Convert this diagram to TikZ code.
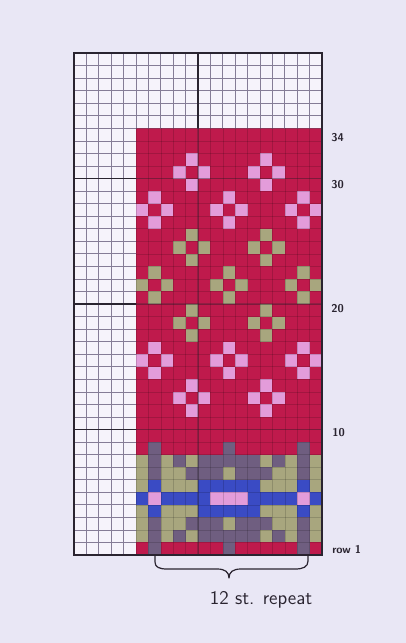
\documentclass[tikz,border=0pt]{standalone}
\usepackage{fontspec}
\definecolor{paper}{HTML}{E9E7F5}
\definecolor{cellw}{HTML}{F6F3FB}
\definecolor{gridc}{HTML}{857C96}
\definecolor{colR}{HTML}{BF1A4C}
\definecolor{colP}{HTML}{E39CDA}
\definecolor{colO}{HTML}{A8A67E}
\definecolor{colG}{HTML}{6F5E80}
\definecolor{colB}{HTML}{3A4BC4}
\definecolor{ink}{HTML}{2A2430}
\newcommand\knitcell[3]{\fill[#3] ({136+(#1-1)*12.4},{555-(#2)*12.55}) rectangle ++(12.4,12.55);}
\newcommand\flower[3]{\knitcell{#1}{#2+1}{#3}\knitcell{#1-1}{#2}{#3}\knitcell{#1+1}{#2}{#3}\knitcell{#1}{#2-1}{#3}}
\newcommand\knitrow[2]{\foreach \c [count=\p] in {#2} {\knitcell{\p}{#1}{col\c}}}
\tikzset{
  lbl/.style={font=\sffamily\bfseries\fontsize{8.5}{10}\selectfont, text=ink, inner sep=0pt, anchor=west},
  replbl/.style={font=\sffamily\fontsize{14.5}{17}\selectfont\addfontfeature{LetterSpace=14}, text=ink, inner sep=0pt},
  thin grid/.style={gridc, line width=0.5pt},
  faint grid/.style={black, opacity=0.15, line width=0.4pt},
  heavy/.style={ink, line width=0.9pt},
}
\begin{document}
\begin{tikzpicture}[x=0.75pt,y=-0.75pt]
\useasboundingbox (0,0) rectangle (406,643);
\fill[paper] (0,0) rectangle (406,643);
% white chart paper
\fill[cellw] (74,53) rectangle (322,555);
% coloured area
\fill[colR] (136,128.3) rectangle (322,555);
% flowers
\flower{5}{31}{colP}\flower{11}{31}{colP}
\flower{2}{28}{colP}\flower{8}{28}{colP}\flower{14}{28}{colP}
\flower{5}{25}{colO}\flower{11}{25}{colO}
\flower{2}{22}{colO}\flower{8}{22}{colO}\flower{14}{22}{colO}
\flower{5}{19}{colO}\flower{11}{19}{colO}
\flower{2}{16}{colP}\flower{8}{16}{colP}\flower{14}{16}{colP}
\flower{5}{13}{colP}\flower{11}{13}{colP}
% border
\knitrow{9}{R,G,R,R,R,R,R,G,R,R,R,R,R,G,R}
\knitrow{8}{O,G,O,G,O,G,G,G,G,G,O,G,O,G,O}
\knitrow{7}{O,G,O,O,G,G,G,O,G,G,G,O,O,G,O}
\knitrow{6}{O,B,O,O,O,B,B,B,B,B,O,O,O,B,O}
\knitrow{5}{B,P,B,B,B,B,P,P,P,B,B,B,B,P,B}
\knitrow{4}{O,B,O,O,O,B,B,B,B,B,O,O,O,B,O}
\knitrow{3}{O,G,O,O,G,G,G,O,G,G,G,O,O,G,O}
\knitrow{2}{O,G,O,G,O,G,G,G,G,G,O,G,O,G,O}
\knitrow{1}{R,G,R,R,R,R,R,G,R,R,R,R,R,G,R}
% grid in white area
\begin{scope}
\clip (74,53) rectangle (322,128.3) (74,128.3) rectangle (136,555);
\foreach \k in {0,...,20} \draw[thin grid] ({74+\k*12.4},53) -- ({74+\k*12.4},555);
\foreach \j in {0,...,40} \draw[thin grid] (74,{53+\j*12.55}) -- (322,{53+\j*12.55});
\foreach \k in {0,10,20} \draw[heavy] ({74+\k*12.4},53) -- ({74+\k*12.4},555);
\foreach \j in {0,10,20,30,40} \draw[heavy] (74,{53+\j*12.55}) -- (322,{53+\j*12.55});
\end{scope}
% grid in coloured area
\begin{scope}
\clip (136,128.3) rectangle (322,555);
\foreach \k in {5,...,20} \draw[faint grid] ({74+\k*12.4},53) -- ({74+\k*12.4},555);
\foreach \j in {6,...,40} \draw[faint grid] (74,{53+\j*12.55}) -- (322,{53+\j*12.55});
\foreach \k in {10} \draw[heavy, opacity=0.3] ({74+\k*12.4},53) -- ({74+\k*12.4},555);
\foreach \j in {10,20,30} \draw[heavy, opacity=0.3] (74,{53+\j*12.55}) -- (322,{53+\j*12.55});
\end{scope}
\draw[heavy] (74,53) rectangle (322,555);
% row labels
\node[lbl] (l34) at (331,138) {34};
\node[lbl] (l30) at (331,185) {30};
\node[lbl] (l20) at (331,309) {20};
\node[lbl] (l10) at (332,433) {10};
\node[lbl] (l1) at (332,549) {row 1};
% brace
\draw[ink, line width=0.9pt, line cap=round, line join=round]
  (155,555) -- (155,562) .. controls (155,567) and (159,569) .. (167,569)
  -- (217,569) .. controls (225,569) and (229,572) .. (229,578)
  .. controls (229,572) and (233,569) .. (241,569)
  -- (295,569) .. controls (303,569) and (308,567) .. (308,561) -- (308,555);
\node[replbl] (rep) at (261,600) {12 st. repeat};
\end{tikzpicture}
\end{document}
